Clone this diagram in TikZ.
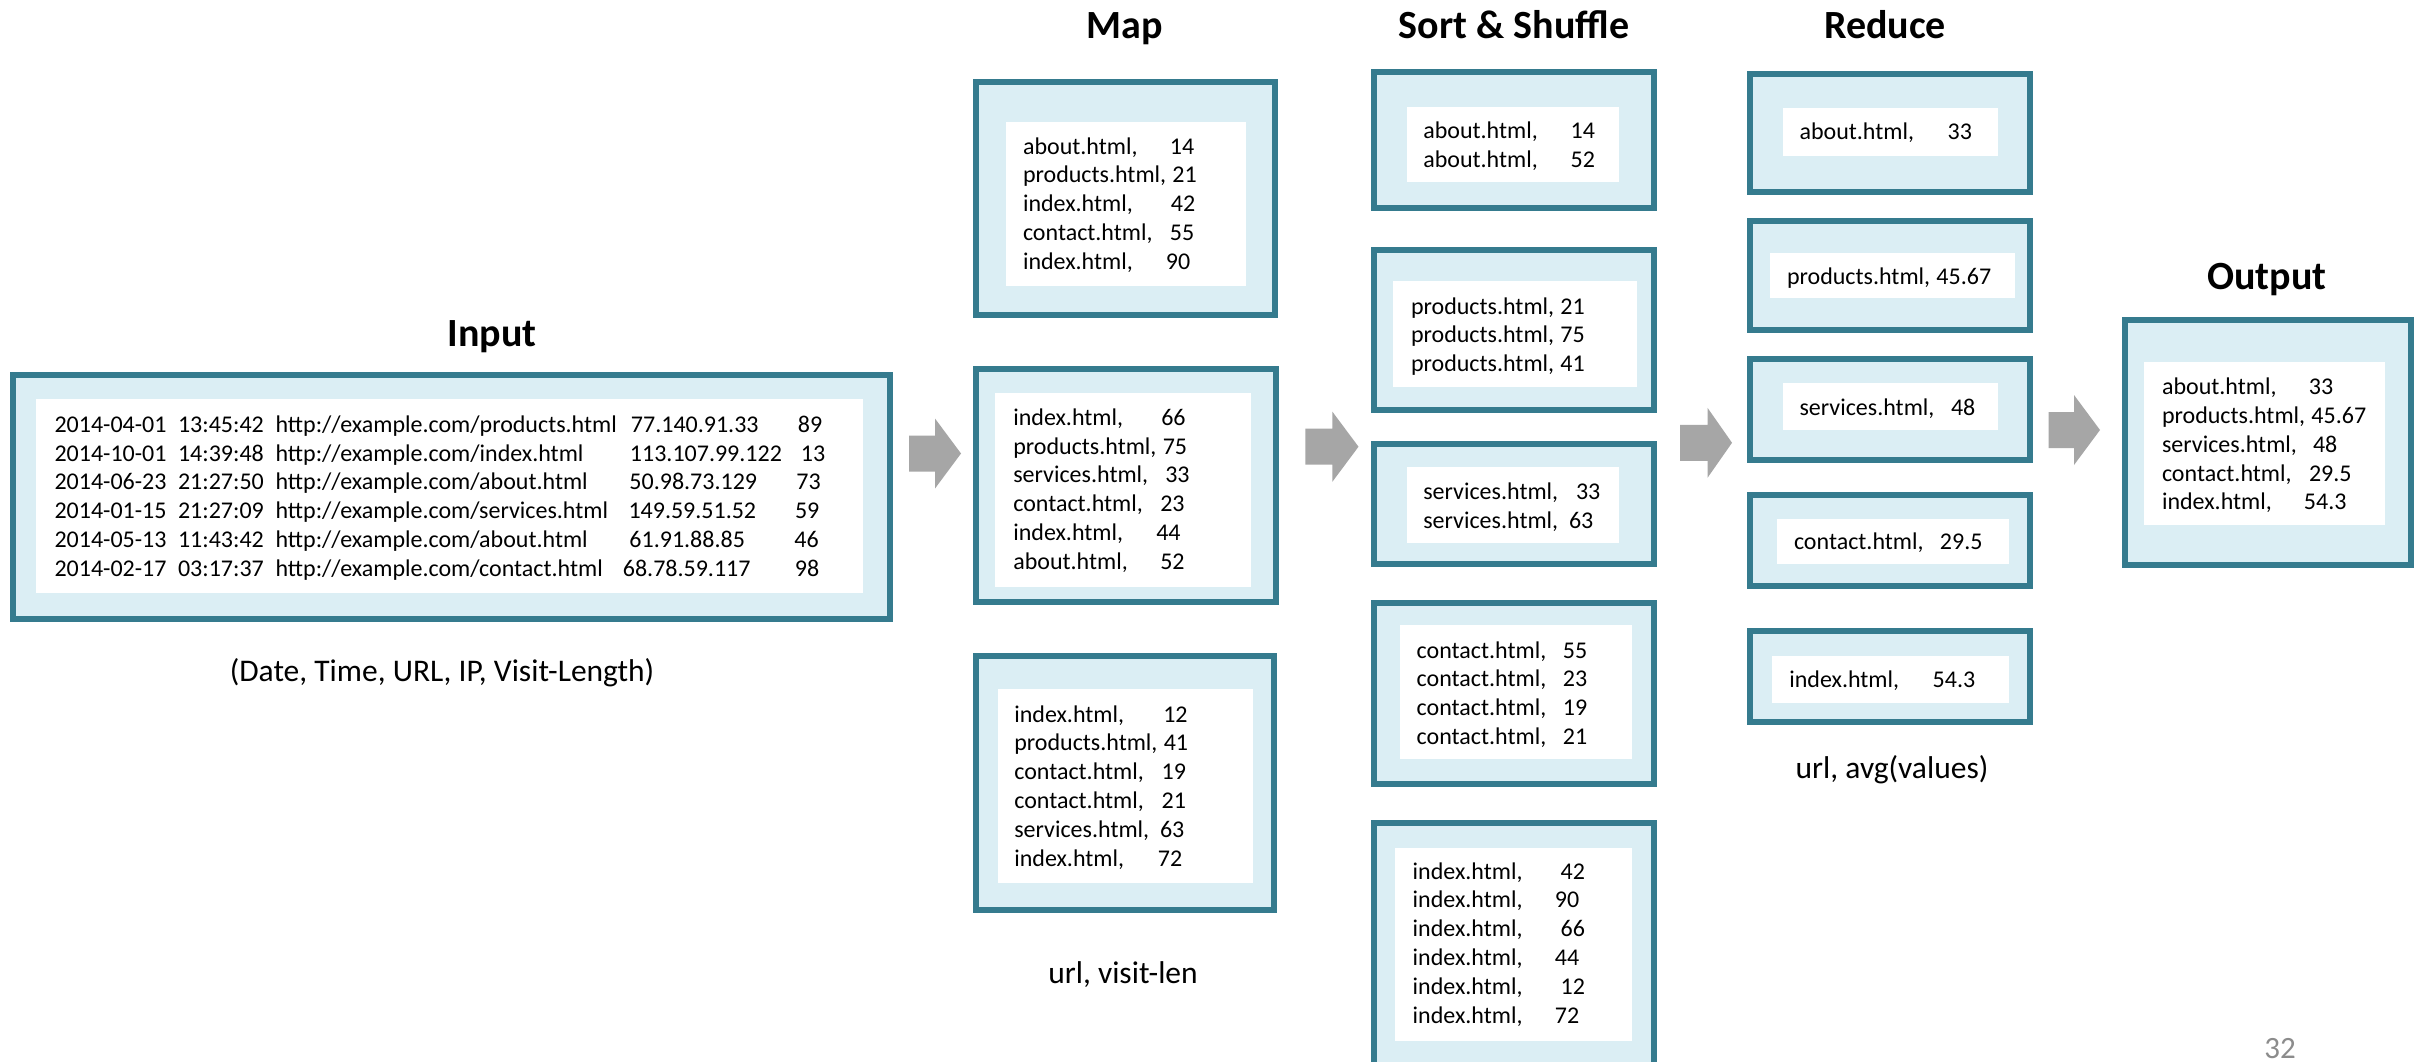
\documentclass[tikz,border=0pt]{standalone}
\usepackage{fontspec}
\setmainfont{Carlito}
\definecolor{bordc}{HTML}{357B8E}
\definecolor{fillc}{HTML}{DBEEF4}
\definecolor{arrc}{HTML}{A6A6A6}
\definecolor{pgnum}{HTML}{8C8C8C}
\tikzset{
  obox/.style={draw=bordc, line width=6pt, fill=fillc, inner sep=0pt, outer sep=0pt, shape=rectangle},
  wbox/.style={fill=white, inner sep=0pt, outer sep=0pt, shape=rectangle},
  txt/.style={inner sep=0pt, outer sep=0pt, anchor=base west, font=\fontsize{24}{28.8}\selectfont},
  hdr/.style={inner sep=0pt, anchor=base, font=\fontsize{40}{48}\selectfont\bfseries},
  lbl/.style={inner sep=0pt, anchor=base, font=\fontsize{31.5}{38}\selectfont},
  barrow/.style={fill=arrc},
}
% outer box: name, x1, y1, x2, y2 (outer edges of border)
\newcommand\obx[5]{\node[obox, minimum width={#4-#2-6}, minimum height={#5-#3-6}] (#1) at ({(#2+#4)/2},{(#3+#5)/2}) {};}
% inner white box
\newcommand\wbx[5]{\node[wbox, minimum width={#4-#2}, minimum height={#5-#3}] (#1) at ({(#2+#4)/2},{(#3+#5)/2}) {};}
% key/value lines: prefix, x, first baseline, list name/offset/value
\newcommand\kvlines[4]{\foreach \kname/\koff/\kval [count=\ki] in {#4} {\node[txt] (#1-\ki) at (#2,{#3+(\ki-1)*28.8}) {\makebox[\koff pt][l]{\kname,}\kval};}}
% block arrow: name, shaft start x, head start x, tip x, centre y
\newcommand\barr[5]{\fill[barrow] (#2,{#5-18}) -- (#3,{#5-18}) -- (#3,{#5-35}) -- (#4,#5) -- (#3,{#5+35}) -- (#3,{#5+18}) -- (#2,{#5+18}) -- cycle; \coordinate (#1) at (#4,#5);}
% input row
\newcommand\inrow[8]{\node[txt] (in-#1) at (54.5,{432.5+(#1-1)*28.7}) {\makebox[123.5pt][l]{#2}\makebox[97.5pt][l]{#3}\makebox[#5pt][l]{#4}\makebox[#7pt][l]{#6}#8};}
\begin{document}
\begin{tikzpicture}[x=1pt, y=-1pt]
\clip (0,0) rectangle (2420,1061);
\fill[white] (0,0) rectangle (2420,1061);

% headers
\node[hdr] (hin) at (492,346) {Input};
\node[hdr] (hmap) at (1125,38) {Map};
\node[hdr] (hsort) at (1514,38) {Sort \& Shuffle};
\node[hdr] (hred) at (1885,38) {Reduce};
\node[hdr] (hout) at (2267,289) {Output};

% input
\obx{inp}{10}{372}{893}{622}
\wbx{inpw}{36}{399}{863}{593}
\inrow{1}{2014-04-01}{13:45:42}{http://example.com/products.html}{355.5}{77.140.91.33}{167}{89}
\inrow{2}{2014-10-01}{14:39:48}{http://example.com/index.html}{354.5}{113.107.99.122}{171}{13}
\inrow{3}{2014-06-23}{21:27:50}{http://example.com/about.html}{354}{50.98.73.129}{167}{73}
\inrow{4}{2014-01-15}{21:27:09}{http://example.com/services.html}{353}{149.59.51.52}{166.5}{59}
\inrow{5}{2014-05-13}{11:43:42}{http://example.com/about.html}{354}{61.91.88.85}{165}{46}
\inrow{6}{2014-02-17}{03:17:37}{http://example.com/contact.html}{347.4}{68.78.59.117}{172}{98}
\node[lbl] (lin) at (442,681) {(Date, Time, URL, IP, Visit-Length)};

% map
\obx{m1}{973}{79}{1278}{318}
\wbx{m1w}{1006}{122}{1246}{286}
\kvlines{m1t}{1023}{154}{about.html/147/14, products.html/149.5/21, index.html/148/42, contact.html/147/55, index.html/143/90}
\obx{m2}{973}{366}{1279}{605}
\wbx{m2w}{995}{393}{1251}{587}
\kvlines{m2t}{1013.3}{425.3}{index.html/148/66, products.html/149.5/75, services.html/152/33, contact.html/147/23, index.html/143/44, about.html/147/52}
\obx{m3}{973}{653}{1277}{913}
\wbx{m3w}{998}{689}{1253}{883}
\kvlines{m3t}{1014.3}{722}{index.html/149/12, products.html/149.5/41, contact.html/147.4/19, contact.html/147.4/21, services.html/145.7/63, index.html/143.7/72}
\node[lbl] (lmap) at (1123,983) {url, visit-len};

% sort & shuffle
\obx{s1}{1371}{69}{1657}{211}
\wbx{s1w}{1407}{107}{1619}{182}
\kvlines{s1t}{1423.3}{138.7}{about.html/147.4/14, about.html/147.4/52}
\obx{s2}{1371}{247}{1657}{413}
\wbx{s2w}{1393}{281}{1637}{387}
\kvlines{s2t}{1411}{314}{products.html/149.5/21, products.html/149.5/75, products.html/149.5/41}
\obx{s3}{1371}{441}{1657}{567}
\wbx{s3w}{1407}{467}{1619}{543}
\kvlines{s3t}{1423.3}{499.7}{services.html/152.7/33, services.html/145.7/63}
\obx{s4}{1371}{600}{1657}{787}
\wbx{s4w}{1400}{625}{1632}{759}
\kvlines{s4t}{1416.7}{658}{contact.html/146.3/55, contact.html/146.3/23, contact.html/146.3/19, contact.html/146.3/21}
\obx{s5}{1371}{820}{1657}{1072}
\wbx{s5w}{1395}{848}{1632}{1041}
\kvlines{s5t}{1412.7}{879}{index.html/148/42, index.html/142.3/90, index.html/148/66, index.html/142.3/44, index.html/148/12, index.html/142.3/72}

% reduce
\obx{r1}{1747}{71}{2033}{195}
\wbx{r1w}{1783}{108}{1998}{156}
\kvlines{r1t}{1799.5}{139.7}{about.html/148.2/33}
\obx{r2}{1747}{218}{2033}{333}
\wbx{r2w}{1770}{253}{2015}{298}
\kvlines{r2t}{1787}{284}{products.html/149.5/45.67}
\obx{r3}{1747}{356}{2033}{463}
\wbx{r3w}{1783}{383}{1998}{430}
\kvlines{r3t}{1799.5}{415.7}{services.html/151.5/48}
\obx{r4}{1747}{492}{2033}{589}
\wbx{r4w}{1777}{519}{2009}{564}
\kvlines{r4t}{1794}{549.7}{contact.html/146/29.5}
\obx{r5}{1747}{628}{2033}{725}
\wbx{r5w}{1772}{656}{2009}{703}
\kvlines{r5t}{1789.3}{687.3}{index.html/143.4/54.3}
\node[lbl] (lred) at (1892,778) {url, avg(values)};

% output
\obx{out}{2122}{317}{2414}{568}
\wbx{outw}{2144}{362}{2385}{525}
\kvlines{ot}{2162}{394.7}{about.html/147/33, products.html/149.5/45.67, services.html/151/48, contact.html/147/29.5, index.html/142/54.3}

% block arrows
\barr{a1}{909}{935}{961}{453.5}
\barr{a2}{1305.4}{1332.4}{1358.5}{446.7}
\barr{a3}{1680}{1707.5}{1732}{442.8}
\barr{a4}{2048.5}{2074}{2100}{430}

% page number
\node[inner sep=0pt, anchor=base, text=pgnum, font=\fontsize{31}{37}\selectfont] (pg) at (2280,1058) {32};
\end{tikzpicture}
\end{document}
